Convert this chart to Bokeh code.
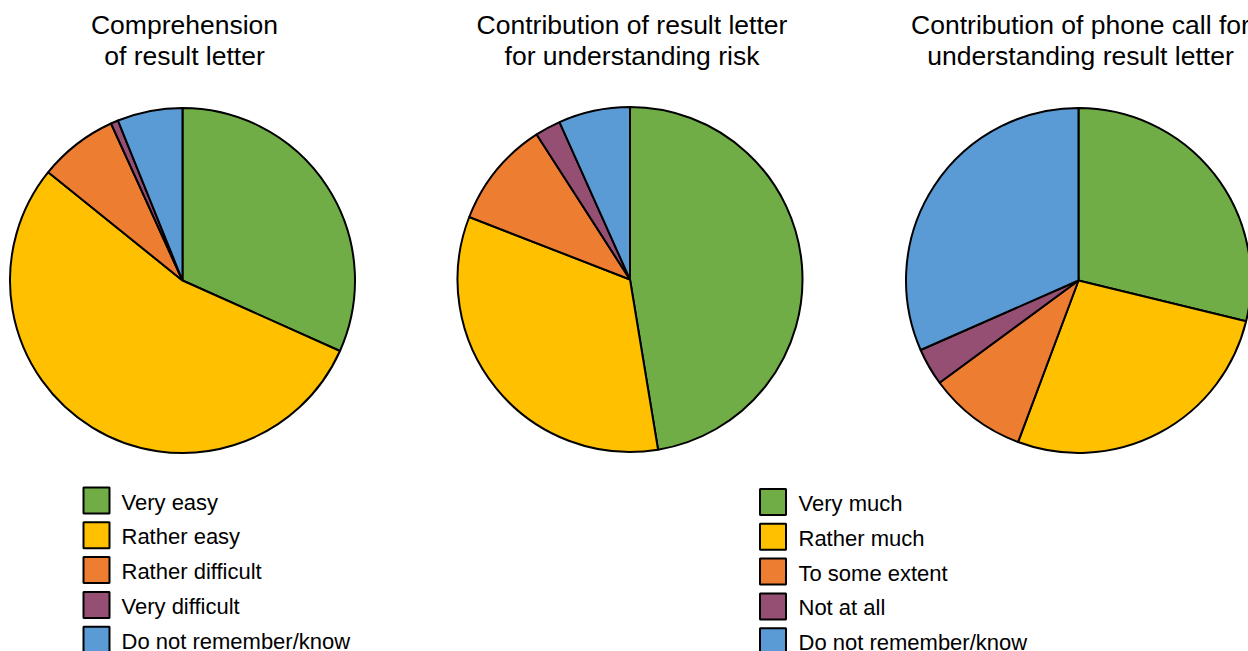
import math
from bokeh.plotting import figure
from bokeh.models import Range1d, ColumnDataSource
from bokeh.core.properties import value
from bokeh.embed import file_html
from bokeh.resources import INLINE

# ---- data ----
titles = [
    ["Comprehension", "of result letter"],
    ["Contribution of result letter", "for understanding risk"],
    ["Contribution of phone call for", "understanding result letter"],
]
labels_a = ["Very easy", "Rather easy", "Rather difficult", "Very difficult", "Do not remember/know"]
labels_b = ["Very much", "Rather much", "To some extent", "Not at all", "Do not remember/know"]
comprehension = [31.7, 54.1, 7.4, 0.7, 6.1]
letter_contribution = [47.4, 33.5, 10.0, 2.4, 6.7]
phone_contribution = [28.8, 26.9, 9.2, 3.5, 31.6]
colors = ["#70AD47", "#FFC000", "#ED7D31", "#954F72", "#5B9BD5"]

W, H = 1248, 651
FONT = "Liberation Sans"

p = figure(width=W, height=H, output_backend="svg", toolbar_location=None,
           x_range=Range1d(0, W), y_range=Range1d(0, H), min_border=0)
p.axis.visible = False
p.grid.visible = False
p.outline_line_color = None
p.background_fill_color = "white"
p.border_fill_color = "white"


def Y(py):
    return H - py


centers = [(182, 280), (629.5, 279), (1078, 280)]
radius = 172.5
series = [comprehension, letter_contribution, phone_contribution]

for (cx, cy), vals, ttl in zip(centers, series, titles):
    total = sum(vals)
    starts, ends = [], []
    cum = 0.0
    for v in vals:
        a0 = math.pi / 2 - 2 * math.pi * (cum + v) / total
        a1 = math.pi / 2 - 2 * math.pi * cum / total
        starts.append(a0)
        ends.append(a1)
        cum += v
    src = ColumnDataSource(dict(x=[cx] * len(vals), y=[Y(cy)] * len(vals),
                                s=starts, e=ends, c=colors))
    p.wedge(x="x", y="y", radius=radius, start_angle="s", end_angle="e",
            fill_color="c", line_color="black", line_width=2, source=src)
    p.text(x=[cx + 2, cx + 2], y=[Y(24), Y(55)], text=ttl,
           text_font=value(FONT), text_font_size="26.5px", text_color="black",
           text_align="center", text_baseline="middle")

# ---- legends ----
row_gap = 34.8
for labels, sq_x, tx, y0 in [(labels_a, 96, 121, 500), (labels_b, 772.5, 798, 501.5)]:
    ys = [Y(y0 + i * row_gap) for i in range(len(labels))]
    p.rect(x=[sq_x] * len(labels), y=ys, width=26, height=26,
           fill_color=colors, line_color="black", line_width=2)
    p.text(x=[tx] * len(labels), y=[y - 1.5 for y in ys], text=labels,
           text_font=value(FONT), text_font_size="22px", text_color="black",
           text_align="left", text_baseline="middle")

open("out.html", "w").write(file_html(p, INLINE))
